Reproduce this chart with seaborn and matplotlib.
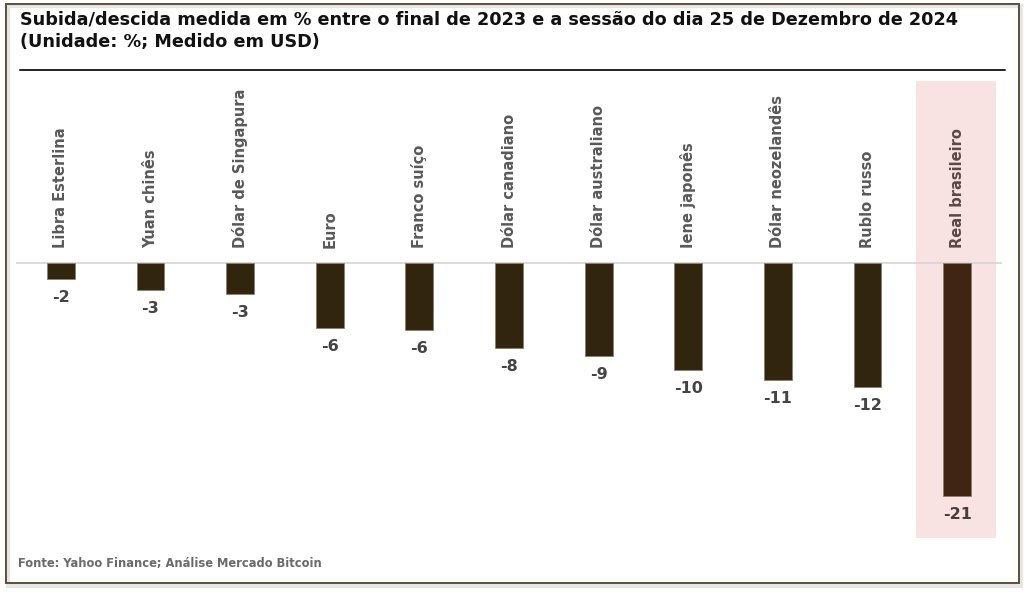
import matplotlib
matplotlib.use("Agg")
import matplotlib.pyplot as plt
from matplotlib.patches import Rectangle
import seaborn as sns
import pandas as pd

# dados
moedas = ["Libra Esterlina", "Yuan chinês", "Dólar de Singapura", "Euro", "Franco suíço",
          "Dólar canadiano", "Dólar australiano", "Iene japonês", "Dólar neozelandês",
          "Rublo russo", "Real brasileiro"]
variacao = [-1.5, -2.5, -2.8, -5.9, -6.1, -7.7, -8.4, -9.7, -10.6, -11.2, -21.0]
rotulos = ["-2", "-3", "-3", "-6", "-6", "-8", "-9", "-10", "-11", "-12", "-21"]
destaque = "Real brasileiro"

titulo = ("Subida/descida medida em % entre o final de 2023 e a sessão do dia 25 de Dezembro de 2024\n"
          "(Unidade: %; Medido em USD)")
fonte = "Fonte: Yahoo Finance; Análise Mercado Bitcoin"

sns.set_style("white")
plt.rcParams['font.family'] = ['DejaVu Sans']

df = pd.DataFrame({"moeda": moedas, "var": variacao})
cores = {m: ("#47240a" if m == destaque else "#372807") for m in moedas}

W, H = 1024, 592
fig = plt.figure(figsize=(W / 100, H / 100), dpi=100)
# eixo em coordenadas de pixel
x0, x1 = 16, 1002
y_top, y_bot = 75, 540
ax = fig.add_axes([x0 / W, 1 - y_bot / H, (x1 - x0) / W, (y_bot - y_top) / H])

sns.barplot(data=df, x="moeda", y="var", hue="moeda", palette=cores, legend=False,
            width=0.31, edgecolor="#8a8070", linewidth=0.6, ax=ax, zorder=3)

ax.set_xlim(-0.5, 10.5)
ax.set_ylim(-25, 16.9)

# fundo rosado do real
i = moedas.index(destaque)
ax.add_patch(Rectangle((i - 0.46, -24.8), 0.89, 41.2, color="#f8e2e2", zorder=1, lw=0))

ax.axhline(0, color="#d4d4d4", lw=1.2, zorder=2)

for k, (m, v, r) in enumerate(zip(moedas, variacao, rotulos)):
    ax.text(k, 1.3, m, rotation=90, ha="center", va="bottom", fontsize=10.5,
            fontweight="bold", color="#595959" if m != destaque else "#5a4848", zorder=4)
    ax.text(k, v - 1.0, r, ha="center", va="top", fontsize=11.5, fontweight="bold",
            color="#444444" if m != destaque else "#4a3c3c", zorder=4)

ax.set_xticks([])
ax.set_yticks([])
ax.set_xlabel("")
ax.set_ylabel("")
for s in ax.spines.values():
    s.set_visible(False)

fig.text(20 / W, 1 - 11 / H, titulo, ha="left", va="top", fontsize=12.7, fontweight="bold",
         color="#111111", linespacing=1.3)
fig.add_artist(plt.Line2D([20 / W, 1005 / W], [1 - 70 / H, 1 - 70 / H], color="#222222", lw=1.4))
fig.text(18 / W, 1 - 563 / H, fonte, ha="left", va="center", fontsize=8.3, fontweight="bold",
         color="#6a6a6a")

# moldura
fig.add_artist(Rectangle((8 / W, 1 - 586 / H), 1013 / W, 580 / H, transform=fig.transFigure,
                         fill=False, edgecolor="#e6e6e6", lw=3))
fig.add_artist(Rectangle((5.5 / W, 1 - 583 / H), 1013.5 / W, 579.5 / H, transform=fig.transFigure,
                         fill=False, edgecolor="#5e4e36", lw=1.4))

fig.savefig("out.png", dpi=100)
